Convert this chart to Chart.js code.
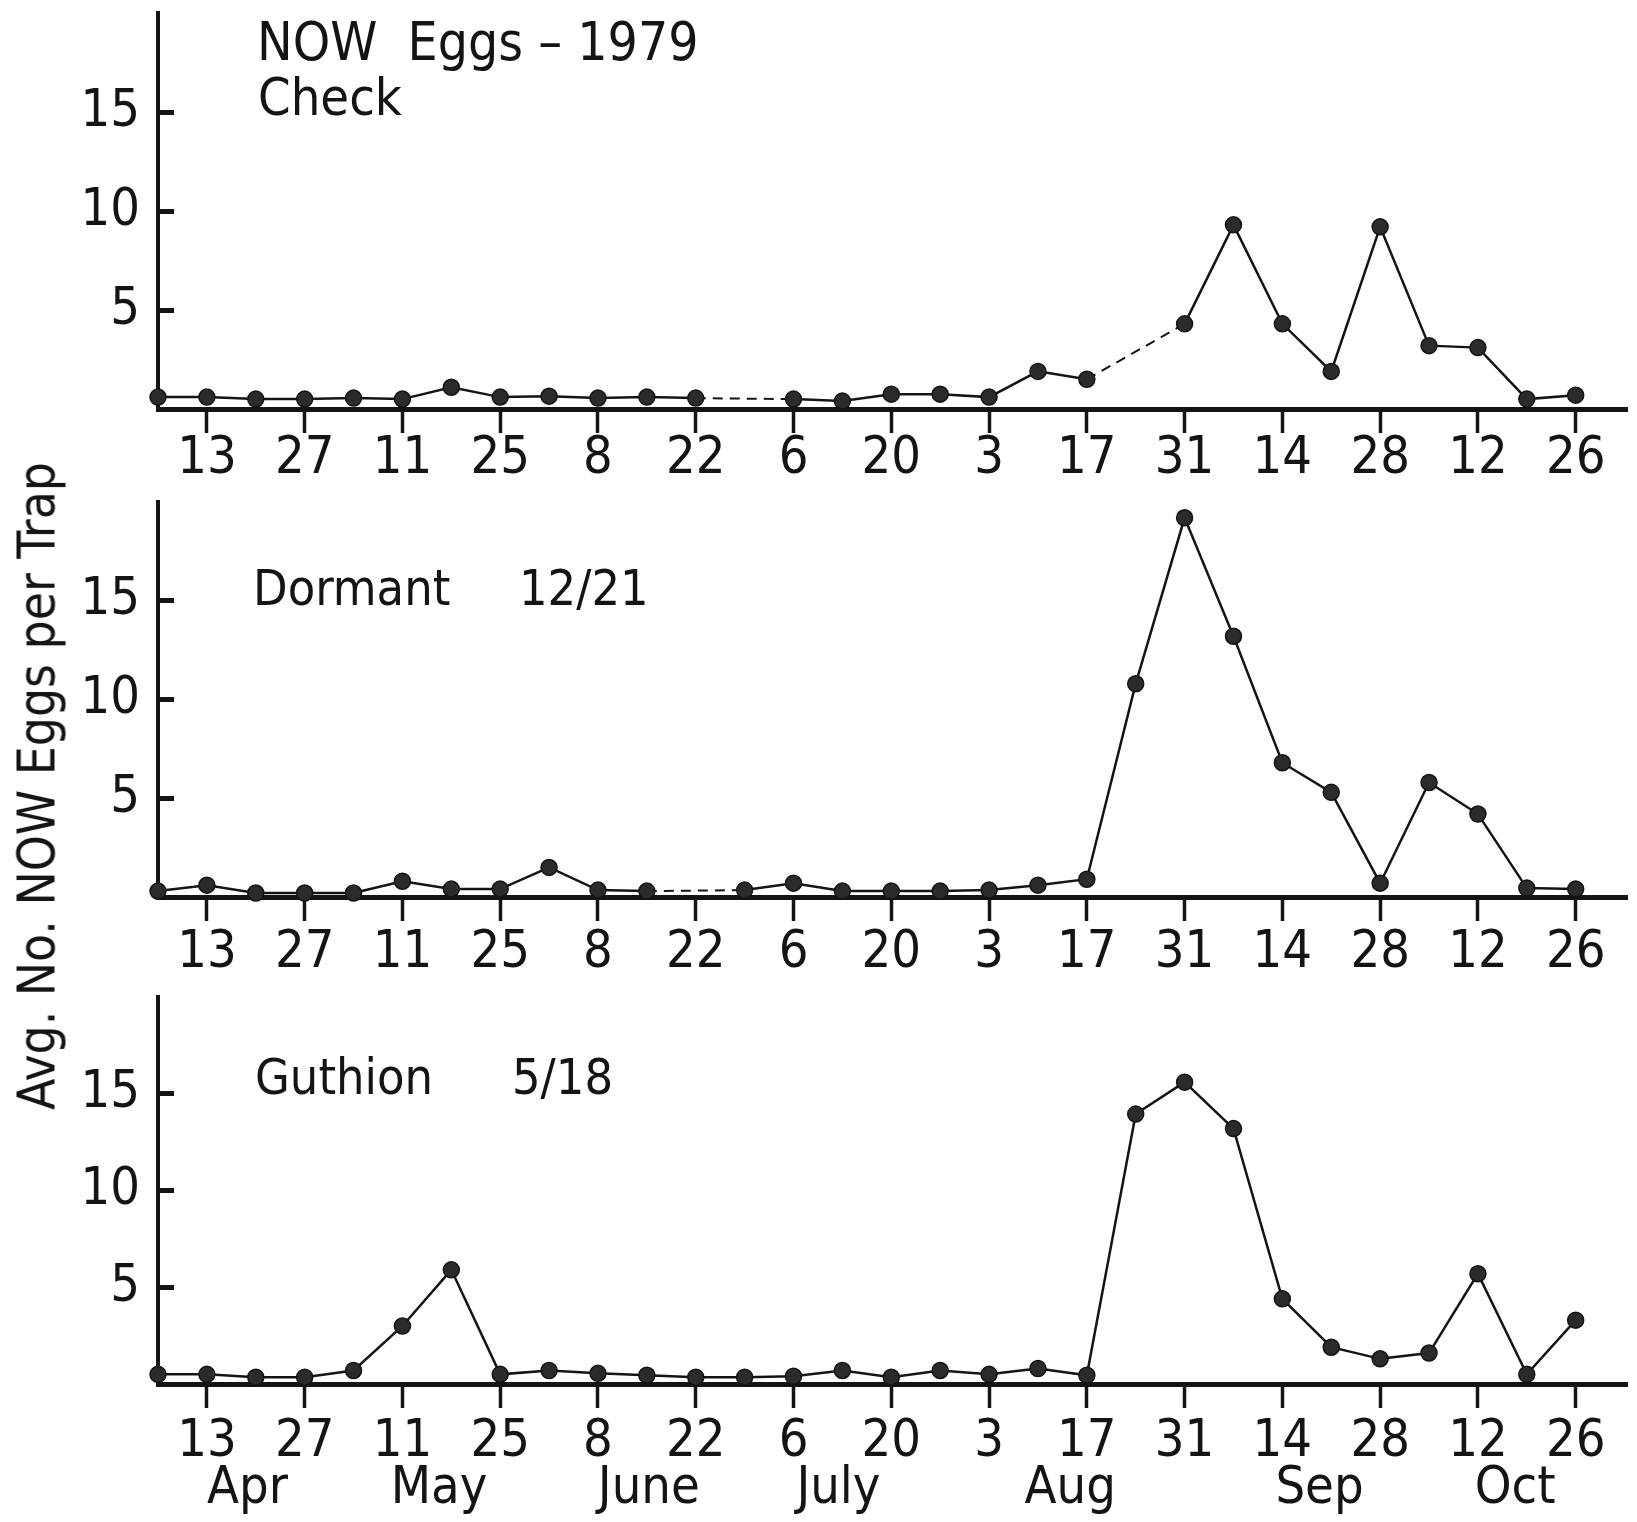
<!DOCTYPE html>
<html>
<head>
<meta charset="utf-8">
<script src="https://cdn.jsdelivr.net/npm/chart.js@4.4.0/dist/chart.umd.min.js"></script>
<style>
  html, body { margin:0; padding:0; background:#fff; width:1637px; height:1522px; overflow:hidden; }
  canvas { position:absolute; left:0; }
  #ytitle { position:absolute; left:37px; top:786px; transform:translate(-50%,-50%) rotate(-90deg);
            font-family: "Liberation Sans Narrow", "DejaVu Sans Condensed", Roboto, sans-serif; font-size:51px; color:#141414; white-space:nowrap; line-height:1; }
</style>
</head>
<body>
<canvas id="c1" width="1637" height="490" style="top:0px"></canvas>
<canvas id="c2" width="1637" height="490" style="top:490px"></canvas>
<canvas id="c3" width="1637" height="542" style="top:980px"></canvas>
<div id="ytitle">Avg. No. NOW Eggs per Trap</div>
<script>
// ---------------- data ----------------
const sampleDates = ['Apr 6','Apr 13','Apr 20','Apr 27','May 4','May 11','May 18','May 25','Jun 1','Jun 8',
  'Jun 15','Jun 22','Jun 29','Jul 6','Jul 13','Jul 20','Jul 27','Aug 3','Aug 10','Aug 17',
  'Aug 24','Aug 31','Sep 7','Sep 14','Sep 21','Sep 28','Oct 5','Oct 12','Oct 19','Oct 26'];
const checkEggs   = [0.6,0.6,0.5,0.5,0.55,0.5,1.1,0.6,0.65,0.55,0.6,0.55,null,0.5,0.4,0.75,0.75,0.6,1.9,1.5,
  null,4.3,9.3,4.3,1.9,9.2,3.2,3.1,0.5,0.7];
const dormantEggs = [0.3,0.6,0.2,0.2,0.2,0.8,0.4,0.4,1.5,0.35,0.3,null,0.35,0.7,0.3,0.3,0.3,0.35,0.6,0.9,
  10.8,19.2,13.2,6.8,5.3,0.7,5.8,4.2,0.45,0.4];
const guthionEggs = [0.5,0.5,0.35,0.35,0.7,3.0,5.9,0.5,0.7,0.55,0.45,0.35,0.35,0.4,0.7,0.35,0.7,0.5,0.8,0.45,
  13.95,15.6,13.2,4.4,1.9,1.3,1.6,5.7,0.5,3.3];
const tickDates  = ['Apr 13','Apr 27','May 11','May 25','Jun 8','Jun 22','Jul 6','Jul 20','Aug 3','Aug 17',
  'Aug 31','Sep 14','Sep 28','Oct 12','Oct 26'];
const tickLabels = ['13','27','11','25','8','22','6','20','3','17','31','14','28','12','26'];
const yTicks = [5,10,15];
const monthLabels  = ['Apr','May','June','July','Aug','Sep','Oct'];
const monthCenters = [1.83,5.75,10.04,13.92,18.66,23.76,27.76]; // in sampling-week units

// ---------------- style ----------------
const FONT = '"Liberation Sans Narrow", "DejaVu Sans Condensed", Roboto, sans-serif';
const INK = '#141414';
Chart.defaults.font.family = FONT;
Chart.defaults.color = INK;

const panelText = {
  id: 'panelText',
  afterDraw(chart, args, opts) {
    const ctx = chart.ctx;
    ctx.save();
    ctx.fillStyle = INK;
    ctx.textAlign = 'left';
    ctx.textBaseline = 'alphabetic';
    (opts.items || []).forEach(it => {
      ctx.font = it.size + 'px ' + FONT;
      ctx.fillText(it.text, it.x, it.y);
    });
    ctx.restore();
  }
};

const tickIdx = tickDates.map(d => sampleDates.indexOf(d));
const XMAX = 30.06;
const noPad = s => { s.paddingTop = 0; s.paddingBottom = 0; s.paddingLeft = 0; s.paddingRight = 0; };

function makeChart(id, values, cfg) {
  const scales = {
    x: {
      type: 'linear', position: 'bottom', min: 0, max: XMAX, bounds: 'data', weight: 0,
      afterBuildTicks: s => { s.ticks = tickIdx.map(v => ({ value: v })); },
      ticks: { callback: (v, i) => tickLabels[i], font: { size: 52, lineHeight: 1 }, color: INK,
               padding: cfg.xPad, autoSkip: false, maxRotation: 0, minRotation: 0 },
      grid: { drawOnChartArea: false, drawTicks: true, tickLength: 24, tickWidth: 3.5, tickColor: INK },
      border: { display: true, width: 5, color: INK },
      afterFit: s => { s.height = cfg.xH; noPad(s); }
    },
    y: {
      type: 'linear', position: 'left', min: 0, max: 20, bounds: 'data',
      afterBuildTicks: s => { s.ticks = yTicks.map(v => ({ value: v })); },
      ticks: { font: { size: 52, lineHeight: 1 }, color: INK, padding: 34 },
      grid: { drawOnChartArea: false, drawTicks: true, tickLength: -16, tickWidth: 5, tickColor: INK },
      border: { display: true, width: 4, color: INK },
      afterFit: s => { s.width = 158; noPad(s); }
    }
  };
  if (cfg.months) {
    scales.x2 = {
      type: 'linear', position: 'bottom', min: 0, max: XMAX, bounds: 'data', weight: 1,
      afterBuildTicks: s => { s.ticks = monthCenters.map(v => ({ value: v })); },
      ticks: { callback: (v, i) => monthLabels[i], font: { size: 52, lineHeight: 1 }, color: INK,
               padding: cfg.mPad, autoSkip: false, maxRotation: 0, minRotation: 0 },
      grid: { display: false, drawTicks: false },
      border: { display: false },
      afterFit: s => { s.height = cfg.mH; noPad(s); }
    };
  }
  return new Chart(document.getElementById(id), {
    type: 'line',
    data: {
      datasets: [{
        data: values.map((v, i) => ({ x: i, y: v })),
        borderColor: INK, borderWidth: 2.5,
        pointRadius: 8, pointBackgroundColor: '#2b2b2b', pointBorderColor: INK, pointBorderWidth: 1.5,
        spanGaps: true, clip: false, tension: 0,
        segment: {
          borderDash: c => (c.p0.skip || c.p1.skip) ? [10, 7] : undefined,
          borderWidth: c => (c.p0.skip || c.p1.skip) ? 2 : undefined
        }
      }]
    },
    options: {
      responsive: false, animation: false, devicePixelRatio: 1,
      layout: { padding: { top: cfg.top, left: 0, right: 0, bottom: 0 } },
      scales,
      plugins: { legend: { display: false }, tooltip: { enabled: false }, panelText: { items: cfg.texts } }
    },
    plugins: [panelText]
  });
}

makeChart('c1', checkEggs, { top: 13, xH: 81, xPad: 0, texts: [
  { text: 'NOW  Eggs – 1979', x: 257, y: 60, size: 53 },
  { text: 'Check', x: 258, y: 115, size: 52 }
]});
makeChart('c2', dormantEggs, { top: 12, xH: 83, xPad: 6, texts: [
  { text: 'Dormant', x: 253, y: 115, size: 50 },
  { text: '12/21', x: 519, y: 115, size: 50 }
]});
makeChart('c3', guthionEggs, { top: 17, xH: 74, xPad: 8, months: true, mH: 64, mPad: 5, texts: [
  { text: 'Guthion', x: 255, y: 114, size: 50 },
  { text: '5/18', x: 512, y: 114, size: 50 }
]});
</script>
</body>
</html>
